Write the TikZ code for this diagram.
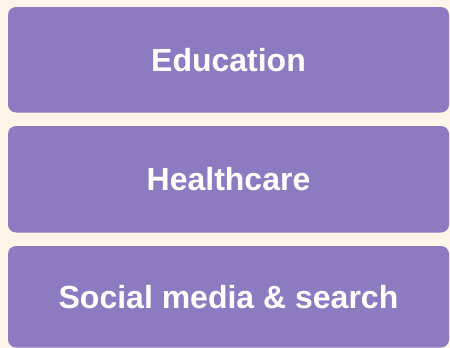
\documentclass[tikz,border=0pt]{standalone}
\usepackage{fontspec}
\setmainfont{Liberation Sans}
\definecolor{bgcream}{HTML}{FEF5EA}
\definecolor{boxpurple}{HTML}{8C7BC1}

\begin{document}
\begin{tikzpicture}[x=1pt,y=-1pt]
        \tikzstyle{every node}+=[inner sep=0pt]
        \tikzstyle{sector}=[fill=boxpurple, rounded corners=8pt, minimum width=441pt, text=white, font=\fontsize{32}{37}\selectfont\bfseries]
        \fill [bgcream] (0,0) rectangle (450,348);
        \node [sector, minimum height=105.5pt] (education) at (228.5,59.75) {Education};
        \node [sector, minimum height=106.5pt] (healthcare) at (228.5,179.25) {Healthcare};
        \node [sector, minimum height=101.5pt] (social) at (228.5,296.75) {Social media \& search};
\end{tikzpicture}
\end{document}
